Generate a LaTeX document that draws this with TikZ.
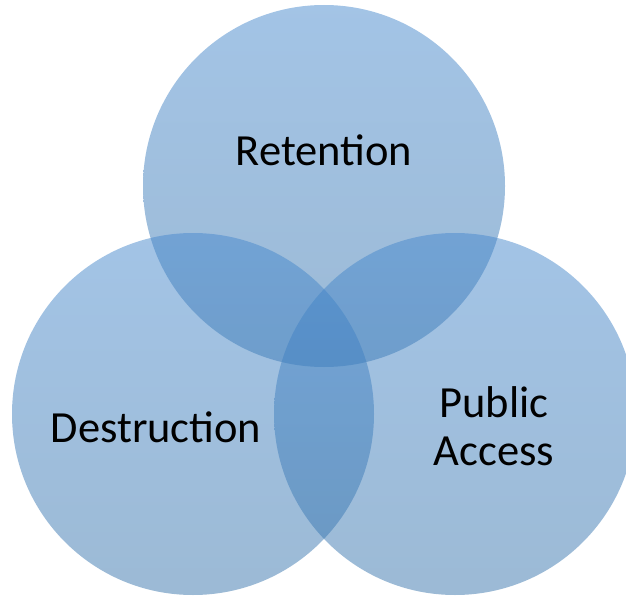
\documentclass[tikz,border=0pt]{standalone}
\usepackage{fontspec}
\setmainfont{Carlito}
\definecolor{venntop}{RGB}{71, 137, 205}
\definecolor{vennbottom}{RGB}{57, 117, 172}

\tikzset{
  venn/.style={circle, minimum size=362pt, inner sep=0pt,
    top color=venntop, bottom color=vennbottom, fill opacity=0.5},
  vennlabel/.style={font=\fontsize{44.5}{48}\selectfont, text=black, inner sep=0pt, anchor=base}
}

\begin{document}
\begin{tikzpicture}[x=1pt, y=-1pt]
                \useasboundingbox (0,0) rectangle (626,596);
                \clip (0,0) rectangle (626,596);
                \node[venn] (ret) at (324,186) {};
                \node[venn] (des) at (193,414) {};
                \node[venn] (pub) at (455,414) {};
                \node[vennlabel] (retlabel) at (324,166) {Retention};
                \node[vennlabel] (deslabel) at (156,442) {Destruction};
                \node[vennlabel] (publabel) at (494,417) {Public};
                \node[vennlabel] (acclabel) at (494,465) {Access};
            \end{tikzpicture}
\end{document}
